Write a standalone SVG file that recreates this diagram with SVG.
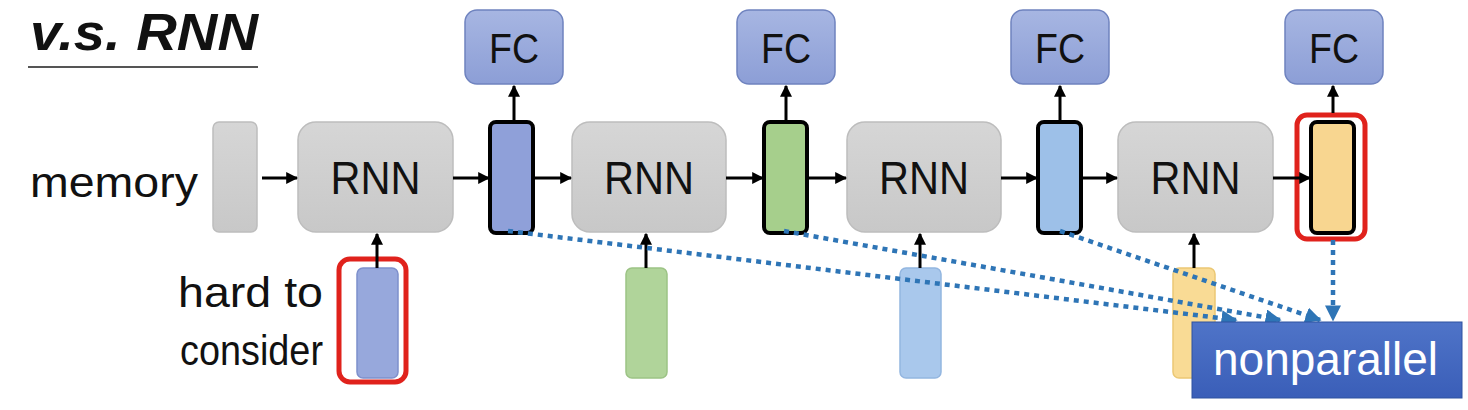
<svg xmlns="http://www.w3.org/2000/svg" width="1468" height="410" viewBox="0 0 1468 410">
<defs>
<linearGradient id="gGrey" x1="0" y1="0" x2="0" y2="1"><stop offset="0" stop-color="#D6D6D6"/><stop offset="1" stop-color="#C8C8C8"/></linearGradient>
<linearGradient id="gFC" x1="0" y1="0" x2="0" y2="1"><stop offset="0" stop-color="#A7B6E2"/><stop offset="1" stop-color="#8C9ED6"/></linearGradient>
<linearGradient id="gNP" x1="0" y1="0" x2="0" y2="1"><stop offset="0" stop-color="#4F74C8"/><stop offset="1" stop-color="#3A5EB8"/></linearGradient>
<marker id="ah" viewBox="0 0 10 10" refX="9" refY="5" markerWidth="4" markerHeight="4" orient="auto"><path d="M0,0 L10,5 L0,10 z" fill="#000"/></marker>
<marker id="bh" viewBox="0 0 10 10" refX="9" refY="5" markerWidth="3.6" markerHeight="3.6" orient="auto"><path d="M0,0 L10,5 L0,10 z" fill="#2E75B6"/></marker>
</defs>
<style>
.t{font-family:"Liberation Sans",Arial,sans-serif;fill:#111}
.grey{fill:url(#gGrey);stroke:#BDBDBD;stroke-width:1.5}
.fc{fill:url(#gFC);stroke:#6F83BF;stroke-width:1.5}
.h{stroke:#000;stroke-width:4}
.red{fill:none;stroke:#E0221C;stroke-width:5}
.arr{stroke:#000;stroke-width:3;fill:none;marker-end:url(#ah)}
.dot{stroke:#2E75B6;stroke-width:4.5;stroke-dasharray:5 5;fill:none;marker-end:url(#bh)}
</style>
<g id="title">
<text class="t" x="30" y="50" font-size="52" font-weight="bold" font-style="italic" textLength="228" lengthAdjust="spacingAndGlyphs">v.s. RNN</text>
<line x1="28" y1="67" x2="258" y2="67" stroke="#555" stroke-width="2"/>
</g>
<g id="labels">
<text class="t" x="30" y="197" font-size="42" textLength="168" lengthAdjust="spacingAndGlyphs">memory</text>
<text class="t" x="323" y="307" font-size="42" text-anchor="end" textLength="145" lengthAdjust="spacingAndGlyphs">hard to</text>
<text class="t" x="323" y="365" font-size="42" text-anchor="end" textLength="143" lengthAdjust="spacingAndGlyphs">consider</text>
</g>
<g id="mem"><rect class="grey" x="213" y="122" width="44" height="110" rx="6"/></g>
<g id="rnn1"><rect class="grey" x="298" y="122" width="155" height="110" rx="18"/><text class="t" x="375.5" y="194" font-size="46" text-anchor="middle" textLength="90" lengthAdjust="spacingAndGlyphs">RNN</text></g>
<g id="rnn2"><rect class="grey" x="572" y="122" width="154" height="110" rx="18"/><text class="t" x="649" y="194" font-size="46" text-anchor="middle" textLength="90" lengthAdjust="spacingAndGlyphs">RNN</text></g>
<g id="rnn3"><rect class="grey" x="847" y="122" width="154" height="110" rx="18"/><text class="t" x="924" y="194" font-size="46" text-anchor="middle" textLength="90" lengthAdjust="spacingAndGlyphs">RNN</text></g>
<g id="rnn4"><rect class="grey" x="1118" y="122" width="155" height="110" rx="18"/><text class="t" x="1195.5" y="194" font-size="46" text-anchor="middle" textLength="90" lengthAdjust="spacingAndGlyphs">RNN</text></g>
<g id="fc1"><rect class="fc" x="465" y="10" width="98" height="74" rx="12"/><text class="t" x="514" y="63" font-size="42" text-anchor="middle" textLength="50" lengthAdjust="spacingAndGlyphs">FC</text></g>
<g id="fc2"><rect class="fc" x="737" y="10" width="98" height="74" rx="12"/><text class="t" x="786" y="63" font-size="42" text-anchor="middle" textLength="50" lengthAdjust="spacingAndGlyphs">FC</text></g>
<g id="fc3"><rect class="fc" x="1011" y="10" width="98" height="74" rx="12"/><text class="t" x="1060" y="63" font-size="42" text-anchor="middle" textLength="50" lengthAdjust="spacingAndGlyphs">FC</text></g>
<g id="fc4"><rect class="fc" x="1285" y="10" width="98" height="74" rx="12"/><text class="t" x="1334" y="63" font-size="42" text-anchor="middle" textLength="50" lengthAdjust="spacingAndGlyphs">FC</text></g>
<g id="h1"><rect class="h" x="490" y="122" width="43" height="111" rx="6" fill="#8FA0D9"/></g>
<g id="h2"><rect class="h" x="764" y="122" width="43" height="111" rx="6" fill="#A6CF8C"/></g>
<g id="h3"><rect class="h" x="1038" y="122" width="43" height="111" rx="6" fill="#9DC0E8"/></g>
<g id="h4"><rect class="h" x="1311" y="122" width="43" height="111" rx="6" fill="#F8D690"/><rect class="red" x="1297" y="115" width="68" height="124" rx="10"/></g>
<g id="x1"><rect x="357" y="268" width="41" height="110" rx="6" fill="#97A8DC" stroke="#7E90CC" stroke-width="1.5"/><rect class="red" x="339" y="259" width="67" height="123" rx="11"/></g>
<g id="x2"><rect x="626" y="268" width="41" height="110" rx="6" fill="#B0D49A" stroke="#9CC385" stroke-width="1.5"/></g>
<g id="x3"><rect x="900" y="268" width="41" height="110" rx="6" fill="#A9C8EC" stroke="#93B6E0" stroke-width="1.5"/></g>
<g id="x4"><rect x="1173" y="268" width="42" height="110" rx="6" fill="#F9DB95" stroke="#EBC874" stroke-width="1.5"/></g>
<g id="connectors">
<line class="arr" x1="262" y1="178" x2="297" y2="178"/>
<line class="arr" x1="453" y1="178" x2="489" y2="178"/>
<line class="arr" x1="535" y1="178" x2="571" y2="178"/>
<line class="arr" x1="726" y1="178" x2="763" y2="178"/>
<line class="arr" x1="809" y1="178" x2="846" y2="178"/>
<line class="arr" x1="1001" y1="178" x2="1037" y2="178"/>
<line class="arr" x1="1083" y1="178" x2="1117" y2="178"/>
<line class="arr" x1="1273" y1="178" x2="1310" y2="178"/>
<line class="arr" x1="514" y1="120" x2="514" y2="86"/>
<line class="arr" x1="786" y1="120" x2="786" y2="86"/>
<line class="arr" x1="1060" y1="120" x2="1060" y2="86"/>
<line class="arr" x1="1333" y1="113" x2="1333" y2="86"/>
<line class="arr" x1="377" y1="268" x2="377" y2="234"/>
<line class="arr" x1="646" y1="268" x2="646" y2="234"/>
<line class="arr" x1="920" y1="268" x2="920" y2="234"/>
<line class="arr" x1="1194" y1="268" x2="1194" y2="234"/>
<line class="dot" x1="508" y1="231" x2="1236" y2="320"/>
<line class="dot" x1="784" y1="231" x2="1280" y2="320"/>
<line class="dot" x1="1060" y1="231" x2="1320" y2="320"/>
<line class="dot" x1="1333" y1="240" x2="1333" y2="320"/>
</g>
<g id="nonparallel"><rect x="1192" y="322" width="270" height="76" fill="url(#gNP)" stroke="#2F52A0" stroke-width="1"/><text x="1213" y="375" font-size="46" fill="#fff" font-family="Liberation Sans,Arial,sans-serif" textLength="225" lengthAdjust="spacingAndGlyphs">nonparallel</text></g>
</svg>
